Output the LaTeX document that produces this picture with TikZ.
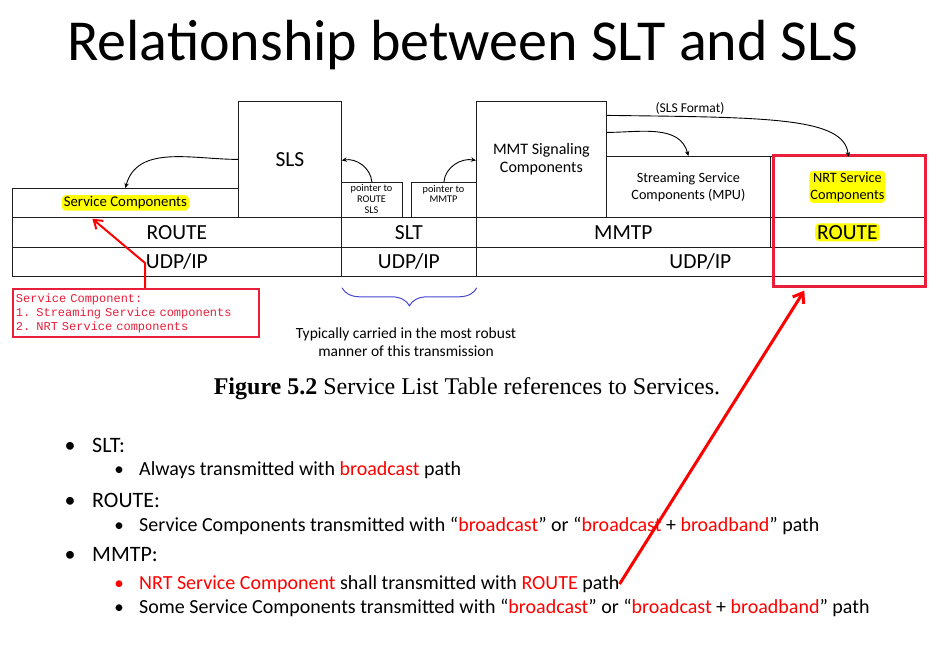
\documentclass[tikz,border=0pt]{standalone}
\usepackage{fontspec}
\setmainfont{Carlito}
\newfontfamily\capfont{Liberation Serif}
\newfontfamily\notefont{Liberation Mono}
\usetikzlibrary{arrows.meta,decorations.pathreplacing,calc}

\definecolor{framered}{RGB}{232,30,58}
\definecolor{linkred}{RGB}{255,0,0}
\definecolor{txtred}{RGB}{255,0,0}
\definecolor{braceblue}{RGB}{70,70,210}
\definecolor{hl}{RGB}{255,255,0}
\definecolor{rule}{RGB}{30,30,30}

\newcommand\fs[2]{\fontsize{#1}{#2}\selectfont}
\newcommand\rd[1]{\textcolor{txtred}{#1}}

\begin{document}
\begin{tikzpicture}[x=1pt,y=-1pt,
  cell/.style={draw=rule, line width=0.8pt, anchor=north west, inner sep=0pt, align=center},
  big/.style={font=\fs{21.5}{25}},
  tiny/.style={font=\fs{10.3}{10.8}, align=center, inner sep=0pt},
  hlbox/.style={fill=hl, rounded corners=4pt, inner xsep=2pt, inner ysep=1.5pt, align=center},
  link/.style={draw=black, line width=0.9pt, -{Stealth[length=5pt,width=4.5pt]}},
  redlink/.style={draw=linkred, line width=2pt, -{Straight Barb[length=8pt,width=11pt,line width=2pt]}},
  lvlone/.style={anchor=base west, inner sep=0pt, font=\fs{22}{26}},
  lvltwo/.style={anchor=base west, inner sep=0pt, font=\fs{20}{24}},
  dot/.style={anchor=base, inner sep=0pt}
]
\useasboundingbox (0,0) rectangle (937,645);

% title
\node[font=\fs{58}{66}] (title) at (463,45) {Relationship between SLT and SLS};

% upper layer: signalling and component boxes
\node[cell, minimum width=226, minimum height=29] (sc) at (12,188) {};
\node[hlbox, font=\fs{14.8}{18}] (sclabel) at (sc.center) {Service Components};
\node[cell, minimum width=103, minimum height=116, big] (sls) at (238,101) {SLS};
\node[cell, minimum width=61, minimum height=35] (ptra) at (341,182) {};
\node[tiny] (ptratext) at (371.5,199) {pointer to\\ROUTE\\SLS};
\node[cell, minimum width=65, minimum height=35] (ptrb) at (411,182) {};
\node[tiny] (ptrbtext) at (443.5,194) {pointer to\\MMTP};
\node[cell, minimum width=130, minimum height=116, font=\fs{16}{18.5}] (mmts) at (476,101) {MMT Signaling\\Components};
\node[cell, minimum width=164, minimum height=61, font=\fs{14.2}{17}] (ssc) at (606,156) {Streaming Service\\Components (MPU)};
\node[cell, minimum width=154, minimum height=61] (nrt) at (770,156) {};
\node[hlbox, font=\fs{14.3}{17}, inner xsep=1pt] (nrtlabel) at (nrt.center) {NRT Service\\Components};

% transport layer
\node[cell, minimum width=329, minimum height=30, big] (routea) at (12,217) {ROUTE};
\node[cell, minimum width=135, minimum height=30, big] (slt) at (341,217) {SLT};
\node[cell, minimum width=294, minimum height=30, big] (mmtp) at (476,217) {MMTP};
\node[cell, minimum width=154, minimum height=30] (routeb) at (770,217) {};
\node[hlbox, big, inner ysep=2pt] (routeblabel) at (routeb.center) {ROUTE};

% network layer
\node[cell, minimum width=329, minimum height=29, big] (udpa) at (12,247) {UDP/IP};
\node[cell, minimum width=135, minimum height=29, big] (udpb) at (341,247) {UDP/IP};
\node[cell, minimum width=448, minimum height=29, big] (udpc) at (476,247) {UDP/IP};

% red frame around the NRT column
\node[draw=framered, line width=2.6pt, anchor=north west, minimum width=152, minimum height=131, inner sep=0pt] (nrtframe) at (772,154) {};

% reference arrows
\draw[link] (sls.west) to[out=180, in=75] (sc.north);
\draw[link] (ptra.north) to[out=95, in=10] ([yshift=-1pt]sls.east);
\draw[link] (ptrb.north) to[out=85, in=170] ([yshift=-1pt]mmts.west);
\draw[link] ([yshift=27pt]mmts.east) to[out=0, in=105] (ssc.north);
\draw[link] ([yshift=44pt]mmts.east) .. controls +(160,2) and +(-4,-40) .. ([xshift=1pt,yshift=-1pt]nrt.north);
\node[font=\fs{13.5}{16}] (slsformat) at (690,108) {(SLS Format)};

% service component note
\node[draw=framered, line width=2pt, anchor=north west, minimum width=246, minimum height=48,
  inner xsep=3pt, inner ysep=3pt, align=left, text=framered, font=\notefont\fs{12}{14}, text width=240] (note) at (12,288)
  {Service Component:\\1. Streaming Service components\\2. NRT Service components};
\coordinate (notebend) at (145,263);
\draw[redlink] ([xshift=133pt]note.north west) -- (notebend) -- ([xshift=-33pt,yshift=-1pt]sc.south);

% brace under the SLT column
\draw[braceblue, line width=1pt, decorate, decoration={brace, mirror, amplitude=18pt}]
  ([yshift=-11pt,xshift=1pt]udpb.south west) -- ([yshift=-11pt]udpb.south east) coordinate (braceend);
\node[font=\fs{15.5}{18}, align=center] (bracetext) at (406,342) {Typically carried in the most robust\\manner of this transmission};

% caption
\node[font=\capfont\fs{24}{28}] (caption) at (467,389) {\textbf{Figure 5.2} Service List Table references to Services.};

% bullet list
\node[dot, font=\fs{22}{26}] (b1) at (70,452) {•};
\node[lvlone] (t1) at (92,452) {SLT:};
\node[dot, font=\fs{19}{23}] (b2) at (119,475) {•};
\node[lvltwo] (t2) at (139,475) {Always transmitted with \rd{broadcast} path};
\node[dot, font=\fs{22}{26}] (b3) at (70,507) {•};
\node[lvlone] (t3) at (92,507) {ROUTE:};
\node[dot, font=\fs{19}{23}] (b4) at (119,531) {•};
\node[lvltwo] (t4) at (139,531) {Service Components transmitted with “\rd{broadcast}” or “\rd{broadcast} + \rd{broadband}” path};
\node[dot, font=\fs{22}{26}] (b5) at (70,561) {•};
\node[lvlone] (t5) at (92,561) {MMTP:};
\node[dot, font=\fs{19}{23}, text=txtred] (b6) at (119,589) {•};
\node[lvltwo] (t6) at (139,589) {\rd{NRT Service Component} shall transmitted with \rd{ROUTE} path};
\node[dot, font=\fs{19}{23}] (b7) at (119,613) {•};
\node[lvltwo] (t7) at (139,613) {Some Service Components transmitted with “\rd{broadcast}” or “\rd{broadcast} + \rd{broadband}” path};

% pointer from the MMTP note to the NRT column
\draw[redlink, line width=3pt, -{Straight Barb[length=9pt,width=13pt,line width=3pt]}]
  ([yshift=5pt]t6.base east) -- ([xshift=-45pt,yshift=-3pt]nrtframe.south);
\end{tikzpicture}
\end{document}
